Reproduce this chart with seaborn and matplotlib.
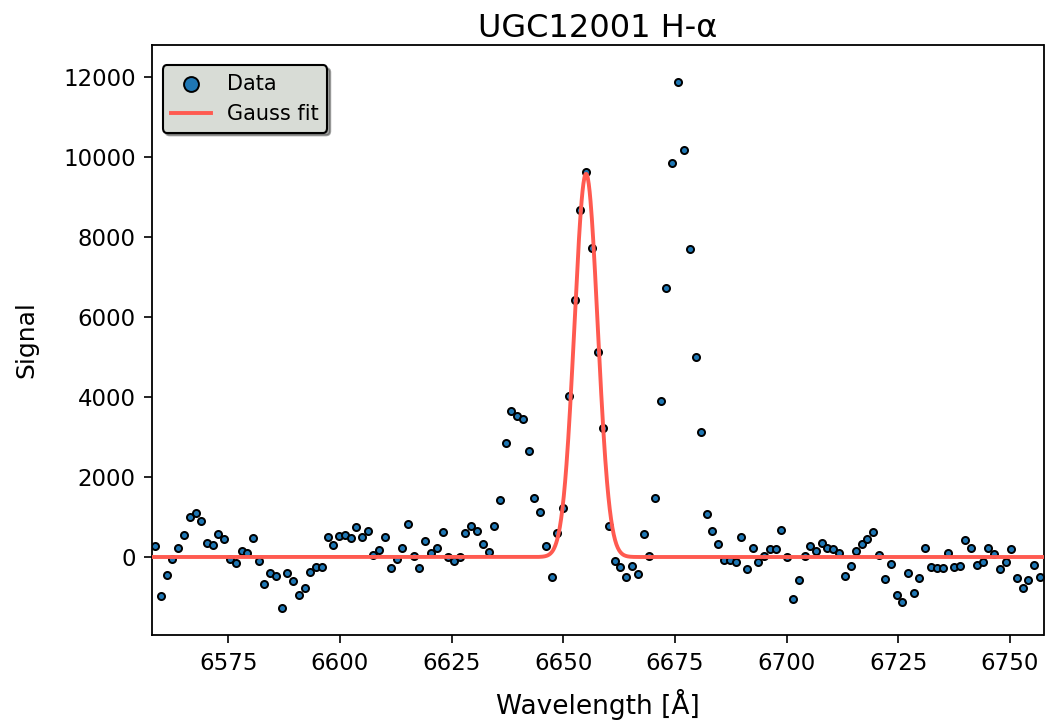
import numpy as np
import matplotlib
matplotlib.use("Agg")
import matplotlib.pyplot as plt
import seaborn as sns

wavelength = [
    6558.7, 6560.0, 6561.2, 6562.5, 6563.8, 6565.1, 6566.4, 6567.7, 6569.0, 6570.2,
    6571.5, 6572.8, 6574.1, 6575.4, 6576.7, 6578.0, 6579.2, 6580.5, 6581.8, 6583.1,
    6584.4, 6585.7, 6587.0, 6588.2, 6589.5, 6590.8, 6592.1, 6593.4, 6594.7, 6596.0,
    6597.3, 6598.5, 6599.8, 6601.1, 6602.4, 6603.7, 6605.0, 6606.3, 6607.5, 6608.8,
    6610.1, 6611.4, 6612.7, 6614.0, 6615.3, 6616.5, 6617.8, 6619.1, 6620.4, 6621.7,
    6623.0, 6624.3, 6625.5, 6626.8, 6628.1, 6629.4, 6630.7, 6632.0, 6633.3, 6634.5,
    6635.8, 6637.1, 6638.4, 6639.7, 6641.0, 6642.3, 6643.5, 6644.8, 6646.1, 6647.4,
    6648.7, 6650.0, 6651.3, 6652.6, 6653.8, 6655.1, 6656.4, 6657.7, 6659.0, 6660.3,
    6661.6, 6662.8, 6664.1, 6665.4, 6666.7, 6668.0, 6669.3, 6670.6, 6671.8, 6673.1,
    6674.4, 6675.7, 6677.0, 6678.3, 6679.6, 6680.8, 6682.1, 6683.4, 6684.7, 6686.0,
    6687.3, 6688.6, 6689.8, 6691.1, 6692.4, 6693.7, 6695.0, 6696.3, 6697.6, 6698.8,
    6700.1, 6701.4, 6702.7, 6704.0, 6705.3, 6706.6, 6707.9, 6709.1, 6710.4, 6711.7,
    6713.0, 6714.3, 6715.6, 6716.9, 6718.1, 6719.4, 6720.7, 6722.0, 6723.3, 6724.6,
    6725.9, 6727.1, 6728.4, 6729.7, 6731.0, 6732.3, 6733.6, 6734.9, 6736.1, 6737.4,
    6738.7, 6740.0, 6741.3, 6742.6, 6743.9, 6745.1, 6746.4, 6747.7, 6749.0, 6750.3,
    6751.6, 6752.9, 6754.1, 6755.4, 6756.7,
]

signal = [
    283, -975, -450, -42, 233, 550, 1000, 1100, 908, 358,
    292, 575, 450, -58, -142, 142, 108, 483, -100, -683,
    -408, -467, -1283, -408, -592, -950, -787, -383, -258, -258,
    508, 300, 525, 550, 467, 758, 492, 650, 58, 175,
    508, -275, -58, 217, 825, 33, -275, 408, 108, 233,
    617, 8, -100, 8, 600, 775, 650, 325, 117, 783,
    1425, 2842, 3642, 3525, 3458, 2650, 1475, 1133, 283, -500,
    600, 1217, 4033, 6425, 8675, 9617, 7733, 5125, 3217, 782,
    -100, -250, -508, -233, -417, 567, 33, 1475, 3892, 6725,
    9842, 11883, 10167, 7708, 5000, 3125, 1067, 658, 325, -75,
    -75, -117, 508, -308, 233, -117, 25, 200, 192, 667,
    -8, -1050, -567, 33, 275, 150, 342, 233, 192, 92,
    -483, -233, 150, 333, 458, 633, 42, -558, -183, -958,
    -1117, -400, -892, -533, 233, -250, -283, -267, 100, -250,
    -217, 425, 233, -192, -125, 217, 67, -292, -133, 200,
    -517, -767, -575, -192, -500,
]

# Gaussian fit parameters
fit_amp = 9580.0
fit_center = 6655.1
fit_sigma = 2.6
fit_offset = 0.0

x_limits = (6558.0, 6757.5)
y_limits = (-1950, 12800)

x_fit = np.linspace(x_limits[0], x_limits[1], 2000)
y_fit = fit_offset + fit_amp * np.exp(-0.5 * ((x_fit - fit_center) / fit_sigma) ** 2)

W, H = 1052, 726
fig = plt.figure(figsize=(W / 100, H / 100), dpi=100)
ax = fig.add_axes([152.3 / W, 1 - 635 / H, (1043.5 - 152.3) / W, (635 - 45) / H])

sns.scatterplot(x=wavelength, y=signal, ax=ax, color="#1f77b4", edgecolor="black",
                linewidth=1.4, s=26, label="Data", zorder=2)
sns.lineplot(x=x_fit, y=y_fit, ax=ax, color="#ff5a50", linewidth=2.8,
             label="Gauss fit", zorder=3)

ax.set_xlim(*x_limits)
ax.set_ylim(*y_limits)
ax.set_xticks([6575, 6600, 6625, 6650, 6675, 6700, 6725, 6750])
ax.set_yticks([0, 2000, 4000, 6000, 8000, 10000, 12000])
ax.tick_params(labelsize=16.5, length=6, width=1.2, pad=6)
for s in ax.spines.values():
    s.set_linewidth(1.3)

ax.set_xlabel("Wavelength [Å]", fontsize=19, labelpad=10)
ax.set_ylabel("Signal", fontsize=18, labelpad=18)
ax.set_title("UGC12001 H-α", fontsize=23, pad=6)

leg = ax.legend(loc="upper left", bbox_to_anchor=(0.0, 1 - 10 / 590),
                facecolor="#d8dcd6", edgecolor="black",
                framealpha=1, shadow=True, fancybox=True, markerscale=2.1,
                fontsize=15, borderaxespad=0.5, handlelength=1.9)
leg.get_frame().set_linewidth(1.5)

fig.savefig("out.png", dpi=100)
